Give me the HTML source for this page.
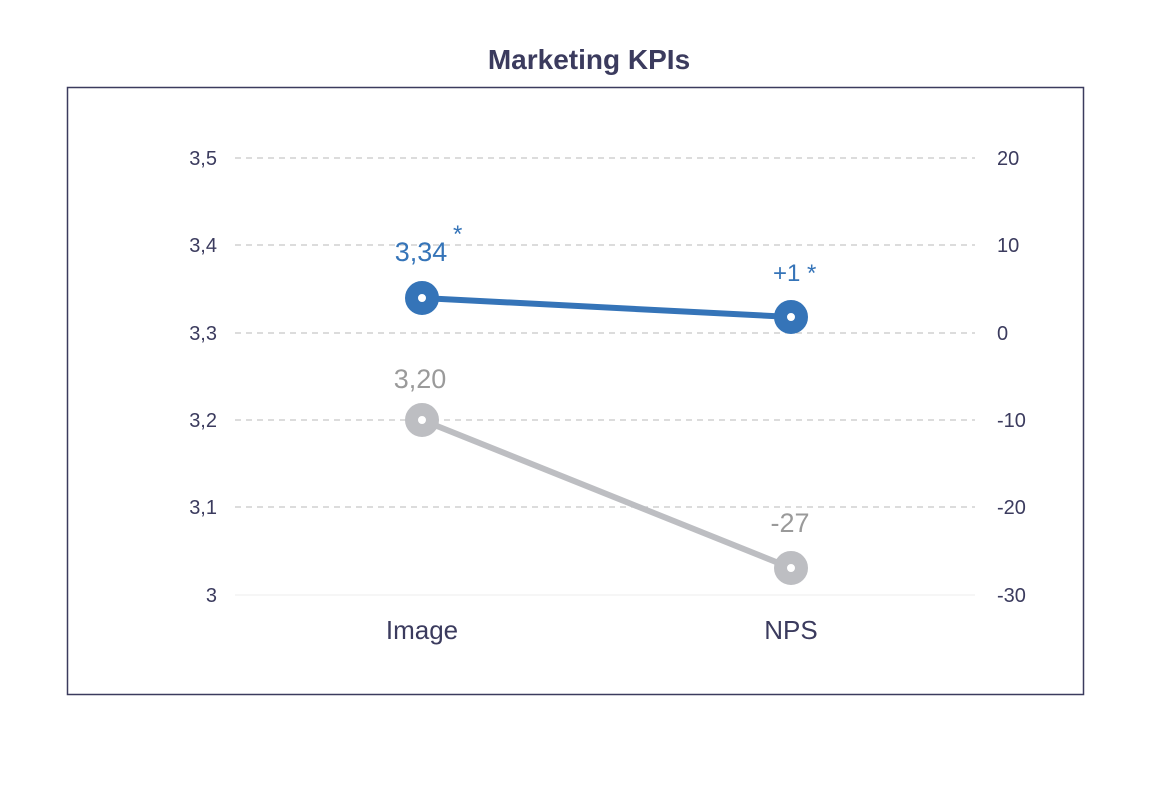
<!DOCTYPE html>
<html><head><meta charset="utf-8"><style>body{margin:0;background:#fff}</style></head><body>
<svg width="1170" height="786" xmlns="http://www.w3.org/2000/svg" font-family="Liberation Sans, sans-serif">
<rect width="1170" height="786" fill="#fff"/>
<text x="589" y="69" text-anchor="middle" font-size="28" font-weight="bold" fill="#3b3b5e">Marketing KPIs</text>
<rect x="67.5" y="87.5" width="1016" height="607" fill="none" stroke="#3b3b5e" stroke-width="1.5"/>
<g stroke="#c8c8c8" stroke-width="1.3" stroke-dasharray="6,5">
<line x1="235" y1="158" x2="975" y2="158"/><line x1="235" y1="245" x2="975" y2="245"/>
<line x1="235" y1="333" x2="975" y2="333"/><line x1="235" y1="420" x2="975" y2="420"/>
<line x1="235" y1="507" x2="975" y2="507"/>
</g>
<line x1="235" y1="595" x2="975" y2="595" stroke="#f0f0f0" stroke-width="1.3"/>
<g font-size="20" fill="#3b3b5e" text-anchor="end">
<text x="217" y="165">3,5</text><text x="217" y="252">3,4</text><text x="217" y="340">3,3</text>
<text x="217" y="427">3,2</text><text x="217" y="514">3,1</text><text x="217" y="602">3</text>
</g>
<g font-size="20" fill="#3b3b5e">
<text x="997" y="165">20</text><text x="997" y="252">10</text><text x="997" y="340">0</text>
<text x="997" y="427">-10</text><text x="997" y="514">-20</text><text x="997" y="602">-30</text>
</g>
<g font-size="26" fill="#3b3b5e" text-anchor="middle">
<text x="422" y="639">Image</text><text x="791" y="639">NPS</text>
</g>
<line x1="422" y1="420" x2="791" y2="568" stroke="#bdbec2" stroke-width="6"/>
<circle cx="422" cy="420" r="10.5" fill="#fff" stroke="#bdbec2" stroke-width="13"/>
<circle cx="791" cy="568" r="10.5" fill="#fff" stroke="#bdbec2" stroke-width="13"/>
<line x1="422" y1="298" x2="791" y2="317" stroke="#3574b8" stroke-width="6"/>
<circle cx="422" cy="298" r="10.5" fill="#fff" stroke="#3574b8" stroke-width="13"/>
<circle cx="791" cy="317" r="10.5" fill="#fff" stroke="#3574b8" stroke-width="13"/>
<g font-size="27" fill="#3574b8">
<text x="421" y="261" text-anchor="middle">3,34</text>
<text x="453" y="242" font-size="24">*</text>
<text x="773" y="281" font-size="24">+1 *</text>
</g>
<g font-size="27" fill="#9a9a9a" text-anchor="middle">
<text x="420" y="388">3,20</text><text x="790" y="532">-27</text>
</g>
</svg>
</body></html>
